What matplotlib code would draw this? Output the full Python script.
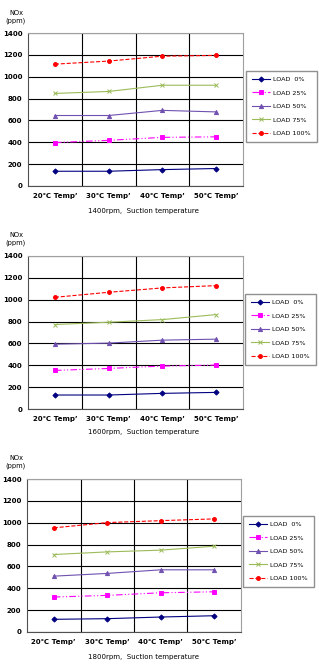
import matplotlib
matplotlib.use("Agg")
import matplotlib.pyplot as plt

plt.rcParams['font.family'] = ['DejaVu Sans', 'Noto Sans CJK KR']

categories = ["20℃ Temp’", "30℃ Temp’", "40℃ Temp’", "50℃ Temp’"]
load_labels = ["LOAD  0%", "LOAD 25%", "LOAD 50%", "LOAD 75%", "LOAD 100%"]
rpm_titles = ["1400rpm,  Suction temperature",
              "1600rpm,  Suction temperature",
              "1800rpm,  Suction temperature"]

# NOx (ppm), one list per load, for each rpm
nox_1400 = [
    [135, 135, 150, 160],
    [397, 418, 445, 450],
    [645, 645, 692, 678],
    [847, 865, 922, 922],
    [1115, 1143, 1188, 1195],
]
nox_1600 = [
    [128, 128, 143, 152],
    [353, 371, 393, 402],
    [593, 603, 630, 639],
    [773, 794, 818, 864],
    [1022, 1068, 1108, 1129],
]
nox_1800 = [
    [116, 122, 137, 149],
    [320, 335, 359, 368],
    [511, 536, 569, 569],
    [709, 733, 749, 785],
    [953, 1001, 1019, 1035],
]
all_data = [nox_1400, nox_1600, nox_1800]

styles = [
    dict(color='#000080', marker='D', linestyle='-', markersize=2.6),
    dict(color='#FF00FF', marker='s', linestyle=(0, (6, 2, 1, 2, 1, 2)), markersize=3),
    dict(color='#7050B0', marker='^', linestyle='-', markersize=3),
    dict(color='#9BBB59', marker='x', linestyle='-', markersize=3),
    dict(color='#FF0000', marker='o', linestyle='--', markersize=2.8),
]

W, H = 319, 664
fig = plt.figure(figsize=(W / 100, H / 100), dpi=100)

# pixel boxes: (left, right, top, bottom) of the plot area, legend top-left, label y
axes_px = [(28, 243, 33, 186), (28, 243, 256, 409), (27, 241, 479, 632)]
legend_px = [(246, 71), (245, 294), (243, 516)]
unit_y = [10, 232, 455]
xlabel_y = [211, 432, 657]

for k, data in enumerate(all_data):
    l, r, t, b = axes_px[k]
    ax = fig.add_axes([l / W, 1 - b / H, (r - l) / W, (b - t) / H])
    x = range(len(categories))
    for vals, lab, st in zip(data, load_labels, styles):
        ax.plot(x, vals, label=lab, linewidth=0.8, markeredgewidth=0.7, **st)

    ax.set_xlim(-0.5, 3.5)
    ax.set_ylim(0, 1400)
    ax.set_yticks(range(0, 1401, 200))
    ax.set_xticks(list(x))
    ax.set_xticklabels(categories)
    ax.set_xticks([0.5, 1.5, 2.5], minor=True)
    ax.grid(True, which='minor', axis='x', color='black', linewidth=0.8)
    ax.grid(True, which='major', axis='y', color='black', linewidth=0.8)
    ax.set_axisbelow(True)
    ax.tick_params(axis='x', which='both', length=0, labelsize=5, pad=5)
    ax.tick_params(axis='y', length=0, labelsize=5, pad=4)
    for lbl in ax.get_xticklabels() + ax.get_yticklabels():
        lbl.set_fontweight('bold')
    for side in ['top', 'right']:
        ax.spines[side].set_color('#a0a0a0')
    for side in ['left', 'bottom']:
        ax.spines[side].set_color('#505050')
    for sp in ax.spines.values():
        sp.set_linewidth(0.8)

    lx, ly = legend_px[k]
    leg = ax.legend(loc='upper left', bbox_to_anchor=(lx / W, 1 - ly / H),
                    bbox_transform=fig.transFigure, fontsize=4.6,
                    fancybox=False, framealpha=1, edgecolor='#909090',
                    handlelength=2.8, handletextpad=0.6, labelspacing=1.25,
                    borderpad=0.9, borderaxespad=0)
    leg.get_frame().set_linewidth(1.0)

    fig.text(16 / W, 1 - unit_y[k] / H, "NOx\n(ppm)", ha='center', va='top',
             fontsize=4.8, linespacing=1.3)
    fig.text(143 / W, 1 - xlabel_y[k] / H, rpm_titles[k], ha='center',
             va='center', fontsize=5)

fig.savefig("out.png", dpi=100)
